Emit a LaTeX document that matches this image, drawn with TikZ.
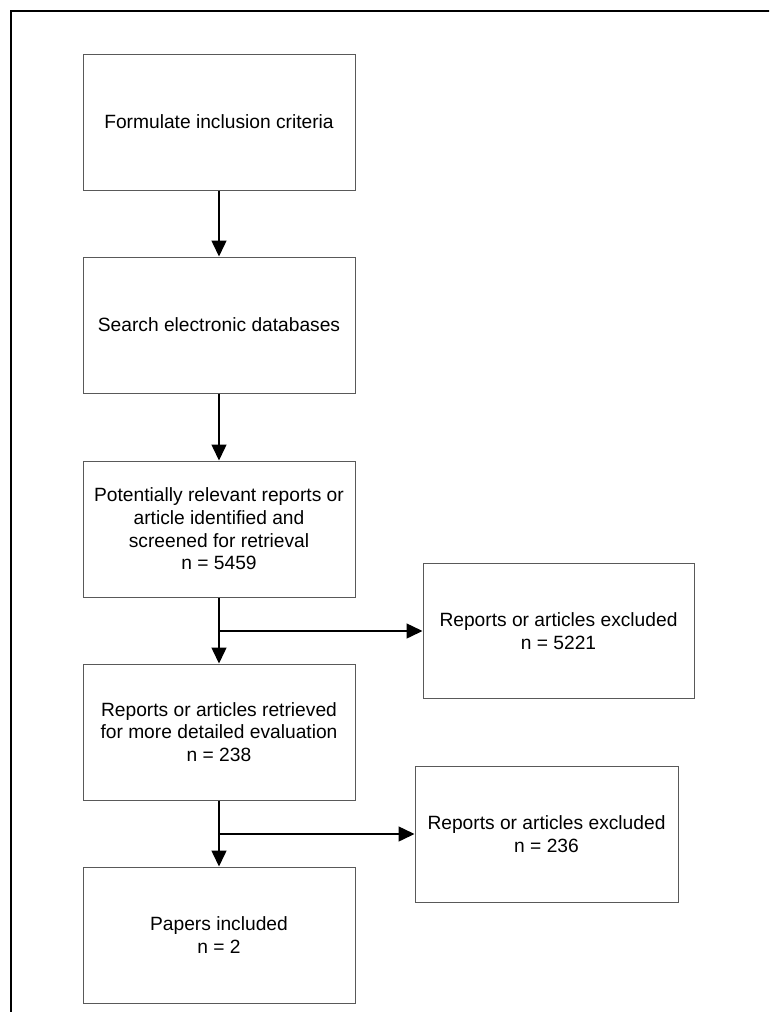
\documentclass[tikz,border=0pt]{standalone}
\usepackage{fontspec}
\setmainfont{Liberation Sans}
\usetikzlibrary{arrows.meta}
\begin{document}
\begin{tikzpicture}[x=1pt, y=-1pt,
  box/.style={draw=black!65, line width=1pt, minimum width=272pt, minimum height=136pt,
    align=center, inner sep=0pt, font=\fontsize{19.2}{22.7}\selectfont},
  arr/.style={line width=1.5pt, -{Triangle[width=15pt,length=16pt]}}]
\useasboundingbox (0,0) rectangle (769,1012);
\clip (0,0) rectangle (769,1012);
\draw[line width=2pt] (11,1040) -- (11,11) -- (800,11);

\node (A) at (219, 122) [box] {Formulate inclusion criteria};
\node (B) at (219, 325) [box] {Search electronic databases};
\node (C) at (219, 529) [box] {Potentially relevant reports or\\article identified and\\screened for retrieval\\n = 5459};
\node (D) at (219, 732) [box] {Reports or articles retrieved\\for more detailed evaluation\\n = 238};
\node (E) at (219, 935) [box] {Papers included\\n = 2};
\node (F) at (558.5, 631) [box, minimum width=271pt, minimum height=135pt] {Reports or articles excluded\\n = 5221};
\node (G) at (546.5, 834) [box, minimum width=263pt] {Reports or articles excluded\\n = 236};
\coordinate (P) at (219, 631);
\coordinate (Q) at (219, 834);

\draw[arr] (A) to (B);
\draw[arr] (B) to (C);
\draw[arr] (C) to (D);
\draw[arr] (D) to (E);
\draw[arr] (P) to (F);
\draw[arr] (Q) to (G);
\end{tikzpicture}
\end{document}
